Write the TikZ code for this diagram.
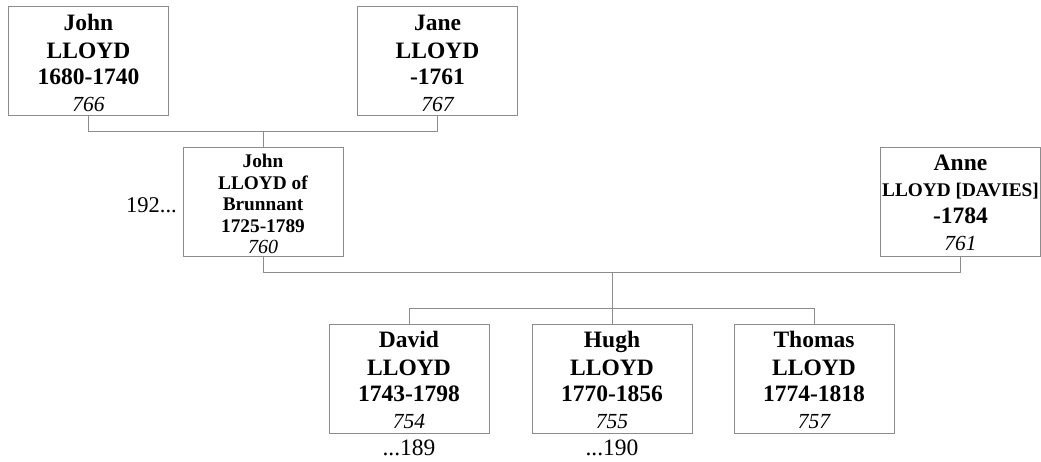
\documentclass[tikz,border=0pt]{standalone}
\usepackage{fontspec}
\setmainfont{Liberation Serif}
\definecolor{linegray}{gray}{0.55}
\newcommand\pbig{\fontsize{23.5}{26.7}\selectfont\bfseries\upshape}
\newcommand\pnum{\fontsize{21.5}{26.7}\selectfont\mdseries\itshape}
\newcommand\psmall{\fontsize{19.3}{21.5}\selectfont\bfseries\upshape}
\newcommand\psnum{\fontsize{20}{22}\selectfont\mdseries\itshape}
\newcommand\ptop{\rule{0pt}{19pt}}
\newcommand\pstop{\rule{0pt}{17pt}}
\begin{document}
\begin{tikzpicture}[x=1pt,y=-1pt,
  box/.style={draw=linegray, line width=1pt, minimum width=160pt, minimum height=109pt, inner sep=0pt, align=center, font=\pbig},
  conn/.style={draw=linegray, line width=1pt},
  ref/.style={font=\fontsize{23.5}{23.5}\selectfont}]
\useasboundingbox (0,0) rectangle (1041,462);
\node[box] (john) at (88.5,61.5) {\ptop John\\[1.5pt] LLOYD\\ 1680-1740\\ \pnum 766};
\node[box] (jane) at (437.5,61.5) {\ptop Jane\\[1.5pt] LLOYD\\ -1761\\ \pnum 767};
\node[box, font=\psmall] (brun) at (263,202.5) {\pstop John\\ LLOYD of\\ Brunnant\\ 1725-1789\\ \psnum 760};
\node[box] (anne) at (960.5,202.5) {Anne\\ \psmall LLOYD [DAVIES]\\ -1784\\ \pnum 761};
\node[box] (david) at (409,378.5) {\ptop David\\[1.5pt] LLOYD\\ 1743-1798\\ \pnum 754};
\node[box] (hugh) at (612,378.5) {\ptop Hugh\\[1.5pt] LLOYD\\ 1770-1856\\ \pnum 755};
\node[box] (thomas) at (814,378.5) {\ptop Thomas\\[1.5pt] LLOYD\\ 1774-1818\\ \pnum 757};
\coordinate (m1) at (263,132);
\coordinate (m2) at (612,273);
\coordinate (c1) at (612,308);
\draw[conn] (john.south) -- (john.south |- m1) -- (jane.south |- m1) -- (jane.south);
\draw[conn] (m1) -- (brun.north);
\draw[conn] (brun.south) -- (brun.south |- m2) -- (anne.south |- m2) -- (anne.south);
\draw[conn] (m2) -- (hugh.north);
\draw[conn] (david.north) -- (david.north |- c1) -- (thomas.north |- c1) -- (thomas.north);
\node[anchor=base east, font=\fontsize{22.5}{22.5}\selectfont, inner sep=0pt] (p192) at (177,213) {192...};
\node[ref, anchor=base, inner sep=0pt] (d189) at (409,455) {...189};
\node[ref, anchor=base, inner sep=0pt] (h190) at (612,455) {...190};
\end{tikzpicture}
\end{document}
